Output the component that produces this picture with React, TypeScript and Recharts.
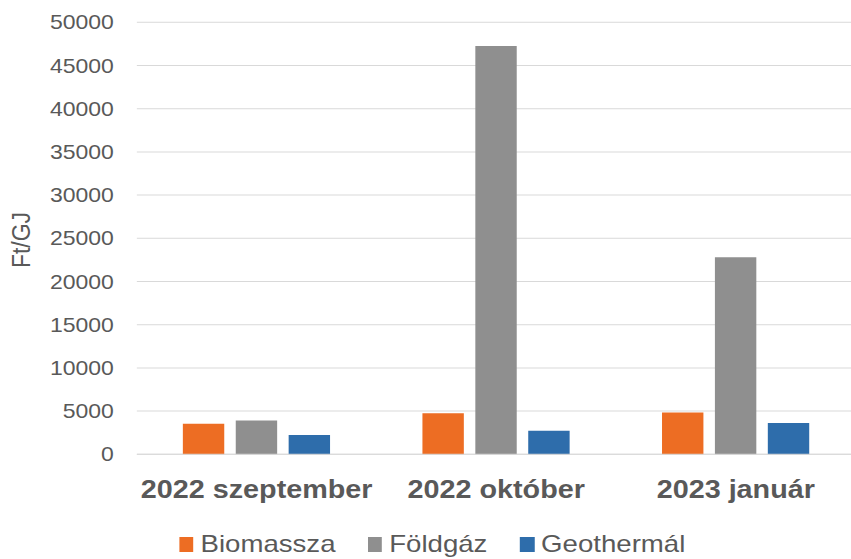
import React from 'react';
import { BarChart, Bar, XAxis, YAxis, CartesianGrid, Legend } from 'recharts';

// ---- data ----
const periods = ['2022 szeptember', '2022 október', '2023 január'];
const biomassza = [3540, 4760, 4840];
const foldgaz = [3900, 47260, 22800];
const geotermal = [2240, 2720, 3620];
const yTicks = [0, 5000, 10000, 15000, 20000, 25000, 30000, 35000, 40000, 45000, 50000];
const seriesKeys = ['biomassza', 'foldgaz', 'geotermal'];
const seriesNames = ['Biomassza', 'Földgáz', 'Geothermál'];
const seriesColors = ['#ED6D23', '#8F8F8F', '#2E6DAB'];

const data = periods.map((p, i) => ({
  period: p,
  biomassza: biomassza[i],
  foldgaz: foldgaz[i],
  geotermal: geotermal[i],
}));

const FONT = '"Liberation Sans", Arial, Helvetica, sans-serif';
const TEXT = '#595959';
const GRID = '#D9D9D9';
const STRETCH = 1.15; // the reference is horizontally stretched

const LegendContent = (props: any) => {
  const payload = props.payload || [];
  return (
    <div
      style={{
        display: 'flex',
        alignItems: 'center',
        fontFamily: FONT,
        fontSize: 24,
        lineHeight: '24px',
        color: TEXT,
        whiteSpace: 'nowrap',
      }}
    >
      {payload.map((entry: any, i: number) => (
        <div
          key={entry.value}
          style={{ display: 'flex', alignItems: 'center', marginLeft: i === 0 ? 0 : 28 }}
        >
          <span
            style={{
              display: 'inline-block',
              width: 12.7,
              height: 14.5,
              background: entry.color,
              marginRight: 6,
              marginTop: 1,
            }}
          />
          <span>{entry.value}</span>
        </div>
      ))}
    </div>
  );
};

const YLabel = () => (
  <text
    x={26.5}
    y={240}
    transform="rotate(-90, 26.5, 240)"
    textAnchor="middle"
    fontFamily={FONT}
    fontSize={23}
    fill={TEXT}
  >
    Ft/GJ
  </text>
);

export default function App() {
  return (
    <div
      style={{
        position: 'fixed',
        left: 0,
        top: 0,
        width: 851,
        height: 559,
        overflow: 'hidden',
        background: '#ffffff',
      }}
    >
      <div
        style={{
          width: 744,
          height: 559,
          transform: `scaleX(${STRETCH})`,
          transformOrigin: '0 0',
        }}
      >
        <BarChart
          width={744}
          height={559}
          data={data}
          margin={{ top: 22.3, right: 0, left: 0, bottom: 44.7 }}
          barCategoryGap={40}
          barGap={10}
        >
          <CartesianGrid vertical={false} stroke={GRID} strokeWidth={1} />
          <XAxis
            dataKey="period"
            height={60}
            interval={0}
            axisLine={{ stroke: GRID, strokeWidth: 1 }}
            tickLine={false}
            tickSize={10}
            tickMargin={16}
            tick={{ fill: TEXT, fontSize: 25, fontWeight: 'bold', fontFamily: FONT }}
          />
          <YAxis
            width={119}
            domain={[0, 50000]}
            ticks={yTicks}
            interval={0}
            axisLine={false}
            tickLine={false}
            tickSize={8}
            tickMargin={12}
            tick={{ fill: TEXT, fontSize: 20, fontFamily: FONT }}
            label={<YLabel />}
          />
          <Legend
            layout="horizontal"
            verticalAlign="middle"
            align="center"
            content={<LegendContent />}
            wrapperStyle={{ left: 155.7, top: 532, width: 600, height: 26, bottom: 'auto', right: 'auto' }}
          />
          {seriesKeys.map((k, i) => (
            <Bar
              key={k}
              dataKey={k}
              name={seriesNames[i]}
              fill={seriesColors[i]}
              isAnimationActive={false}
            />
          ))}
        </BarChart>
      </div>
    </div>
  );
}
